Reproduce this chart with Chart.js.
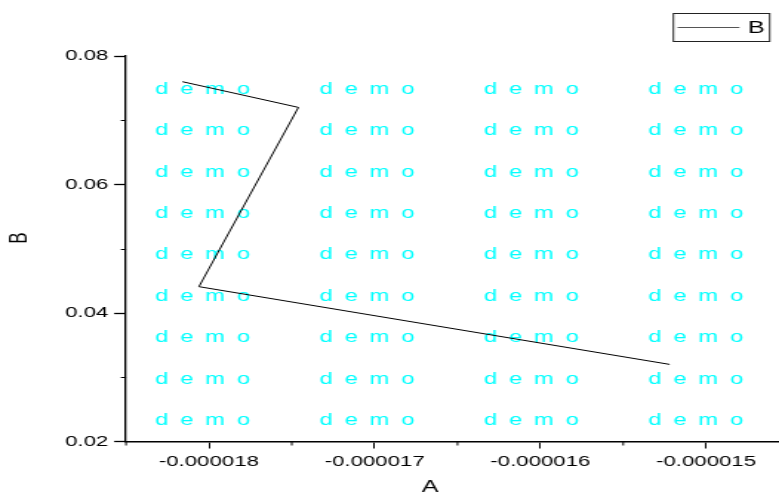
<!DOCTYPE html>
<html><head><meta charset="utf-8">
<script src="https://cdn.jsdelivr.net/npm/chart.js@4.4.1/dist/chart.umd.min.js"></script>
<style>
html,body{margin:0;padding:0;background:#fff;overflow:hidden}
#c{display:block;width:779px !important;height:497px !important}
</style>
</head><body>
<canvas id="c" width="526" height="497" style="width:779px;height:497px"></canvas>
<script>
// ---- data ----
const seriesName = 'B';
const xTitle = 'A';
const yTitle = 'B';
const xValues = [-0.00001816, -0.00001746, -0.00001806, -0.00001522];
const yValues = [0.0760, 0.0720, 0.0441, 0.0320];
const xTickValues = [-0.000018, -0.000017, -0.000016, -0.000015];
const xTickLabels = ['-0.000018', '-0.000017', '-0.000016', '-0.000015'];
const xMinorTicks = [-0.0000185, -0.0000175, -0.0000165, -0.0000155];
const yTickValues = [0.02, 0.04, 0.06, 0.08];
const yTickLabels = ['0.02', '0.04', '0.06', '0.08'];
const yMinorTicks = [0.03, 0.05, 0.07];
const watermarkText = 'd e m o';

const FONT = '"Liberation Sans", Arial, sans-serif';
Chart.defaults.font.family = FONT;

const deco = {
  id: 'deco',
  beforeDatasetsDraw(chart) {
    const {ctx, chartArea} = chart;
    ctx.save();
    ctx.fillStyle = '#00FFFF';
    ctx.font = '16px ' + FONT;
    try { ctx.letterSpacing = '1.8px'; } catch (e) {}
    ctx.textAlign = 'left';
    ctx.textBaseline = 'alphabetic';
    for (let j = 0; j < 9; j++) {
      for (let i = 0; i < 4; i++) {
        const x = chartArea.left + 19.6 + i * 111;
        const y = chartArea.top + 33.5 + j * 41.4 + 4.2;
        ctx.fillText(watermarkText, x, y);
      }
    }
    ctx.restore();
  },
  afterDraw(chart) {
    const {ctx, chartArea, scales} = chart;
    ctx.save();
    ctx.strokeStyle = '#000';
    // minor ticks
    ctx.lineWidth = 1.2;
    ctx.beginPath();
    yMinorTicks.forEach(v => {
      const y = Math.round(scales.y.getPixelForValue(v)) + 0.5;
      ctx.moveTo(chartArea.left, y);
      ctx.lineTo(chartArea.left - 3.5, y);
    });
    ctx.stroke();
    ctx.lineWidth = 1;
    ctx.beginPath();
    xMinorTicks.forEach(v => {
      const x = scales.x.getPixelForValue(v);
      ctx.moveTo(x, chartArea.bottom);
      ctx.lineTo(x, chartArea.bottom + 4);
    });
    ctx.stroke();
    // legend
    const ds = chart.data.datasets[0];
    ctx.lineWidth = 1;
    ctx.strokeStyle = '#222';
    ctx.strokeRect(454.7, 13.5, 65, 28);
    ctx.strokeStyle = '#555';
    ctx.beginPath();
    ctx.moveTo(457.5, 27.5);
    ctx.lineTo(499.3, 27.5);
    ctx.stroke();
    ctx.fillStyle = '#000';
    ctx.font = '17px ' + FONT;
    ctx.textAlign = 'left';
    ctx.textBaseline = 'middle';
    ctx.fillText(ds.label, 505, 28.5);
    // axis titles
    ctx.font = '17px ' + FONT;
    ctx.textAlign = 'center';
    ctx.fillText(xTitle, 290.5, 487);
    ctx.translate(13.5, 238);
    ctx.rotate(-Math.PI / 2);
    ctx.fillText(yTitle, 0, 0);
    ctx.restore();
  }
};

new Chart(document.getElementById('c'), {
  type: 'scatter',
  data: {
    datasets: [{
      label: seriesName,
      data: xValues.map((x, i) => ({x: x, y: yValues[i]})),
      showLine: true,
      borderColor: '#000',
      borderWidth: 1,
      pointRadius: 0,
      fill: false,
      tension: 0
    }]
  },
  options: {
    responsive: false,
    devicePixelRatio: 1,
    animation: false,
    layout: {padding: {top: 56, left: 0, right: 0, bottom: 0}},
    plugins: {legend: {display: false}, tooltip: {enabled: false}},
    scales: {
      x: {
        type: 'linear',
        min: -0.0000185,
        max: -0.00001456,
        afterBuildTicks: s => { s.ticks = xTickValues.map(v => ({value: v})); },
        afterFit: s => { s.height = 55.5; },
        ticks: {
          callback: v => xTickLabels[xTickValues.indexOf(v)],
          color: '#000', font: {size: 15}, padding: 4, maxRotation: 0, autoSkip: false
        },
        grid: {drawOnChartArea: false, drawTicks: true, tickLength: 7, tickColor: '#000', tickWidth: 1},
        border: {display: true, color: '#000', width: 1.6}
      },
      y: {
        type: 'linear',
        min: 0.02,
        max: 0.08,
        afterBuildTicks: s => { s.ticks = yTickValues.map(v => ({value: v})); },
        afterFit: s => { s.width = 85.1; },
        ticks: {
          callback: v => yTickLabels[yTickValues.indexOf(v)],
          color: '#000', font: {size: 15}, padding: 4, autoSkip: false
        },
        grid: {drawOnChartArea: false, drawTicks: true, tickLength: 8, tickColor: '#000', tickWidth: 1.3},
        border: {display: true, color: '#000', width: 1.3}
      }
    }
  },
  plugins: [deco]
});
</script>
</body></html>
